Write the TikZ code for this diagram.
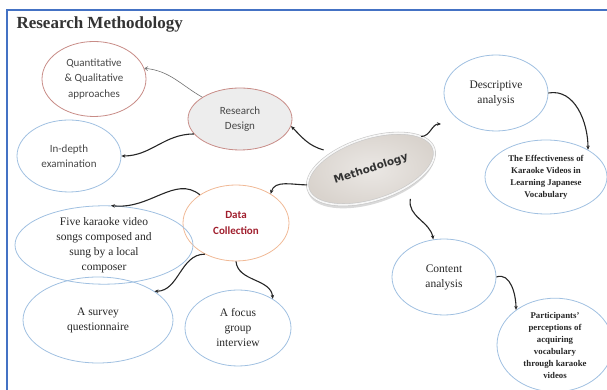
\documentclass[tikz,border=0pt]{standalone}
\usepackage{fontspec}
\setmainfont{Liberation Serif}
\newfontfamily\calfont{Carlito}
\newfontfamily\methfont{DejaVu Sans}
\usetikzlibrary{shapes.geometric,arrows.meta,shadows}
\definecolor{rimred}{RGB}{200,140,135}
\definecolor{rimblue}{RGB}{160,192,225}
\definecolor{rimorange}{RGB}{240,185,150}
\definecolor{frameblue}{RGB}{68,114,196}
\definecolor{dcred}{RGB}{160,30,45}
\definecolor{methfill}{RGB}{210,203,196}
\begin{document}
\begin{tikzpicture}[x=1pt,y=1pt,
  bub/.style={ellipse,draw=rimblue,line width=0.8pt,inner sep=0pt,align=center,
    text=black!85,font=\fontsize{11.5}{15}\selectfont},
  redbub/.style={bub,draw=rimred,text=black!72,font=\calfont\fontsize{11}{15.5}\selectfont},
  boldbub/.style={bub,font=\bfseries\fontsize{8.8}{12}\selectfont},
  link/.style={line width=1.1pt,draw=black!85,-{Stealth[length=4pt,width=3.5pt]}},
]
\useasboundingbox (0,0) rectangle (607,390);
\draw[frameblue,line width=2pt] (7,0) -- (7,380) -- (607,380);
\node[anchor=base west,text=black!80,font=\bfseries\fontsize{17}{20}\selectfont] (title) at (13,361) {Research Methodology};

\node[redbub,minimum width=104pt,minimum height=75pt] (quant) at (94,311) {Quantitative\\\& Qualitative\\approaches};
\node[redbub,fill=black!7,minimum width=104pt,minimum height=62pt] (rd) at (240,271) {Research\\Design};
\node[redbub,draw=rimblue,minimum width=104pt,minimum height=72pt] (indepth) at (69,234) {In-depth\\examination};
\node[redbub,draw=rimorange,text=dcred,font=\calfont\bfseries\fontsize{11}{15.5}\selectfont,
  minimum width=106pt,minimum height=76pt] (dc) at (236,167) {Data\\Collection};
\node[bub,minimum width=178pt,minimum height=66pt] (five) at (104,145) {Five karaoke video\\songs composed and\\sung by a local\\composer};
\node[bub,minimum width=150pt,minimum height=86pt] (survey) at (98,70) {A survey\\questionnaire};
\node[bub,minimum width=106pt,minimum height=76pt] (focus) at (238,62) {A focus\\group\\interview};
\node[bub,minimum width=104pt,minimum height=76pt] (desc) at (496,297) {Descriptive\\analysis};
\node[bub,minimum width=104pt,minimum height=76pt] (content) at (444,113) {Content\\analysis};
\node[boldbub,minimum width=122pt,minimum height=74pt] (eff) at (546,213) {The Effectiveness of\\Karaoke Videos in\\Learning Japanese\\Vocabulary};
\node[boldbub,minimum width=116pt,minimum height=74pt] (part) at (555,45) {Participants’\\perceptions of\\acquiring\\vocabulary\\through karaoke\\videos};

\node[ellipse,rotate=18,minimum width=132pt,minimum height=62pt,
  draw=black!22,double=black!3,double distance=1.6pt,line width=0.6pt,
  inner color=methfill!45!white,outer color=methfill!85!white,
  drop shadow={opacity=0.3,shadow xshift=0pt,shadow yshift=-3.5pt},
  text=black!80,font=\methfont\bfseries\fontsize{10.5}{12}\selectfont] (meth) at (371,221) {Methodology};

\draw[link,line width=0.6pt,draw=black!55,-{Straight Barb[length=3pt,width=4pt]}] (rd.150) to[out=150,in=-5] (quant.12);
\draw[link] (rd.198) to[out=180,in=0] (indepth.east);
\draw[link] ([yshift=9pt]meth.150) to[out=165,in=-45] (rd.-8);
\draw[link] (meth.176) to[out=180,in=75] (dc.40);
\coordinate (dtip) at (441,266);
\draw[link] (meth.15) to[out=0,in=180] (dtip);
\draw[link] ([yshift=-14pt]meth.-40) to[out=-100,in=100] (content.106);
\draw[link] (desc.east) to[out=10,in=90] (eff.33);
\draw[link] (content.east) to[out=20,in=90] (part.138);
\draw[link] (dc.142) .. controls (175,215) and (150,180) .. (five.80);
\draw[link] (dc.225) to[out=180,in=0] (survey.27);
\draw[link] (dc.south) to[out=-85,in=95] (focus.40);
\end{tikzpicture}
\end{document}
